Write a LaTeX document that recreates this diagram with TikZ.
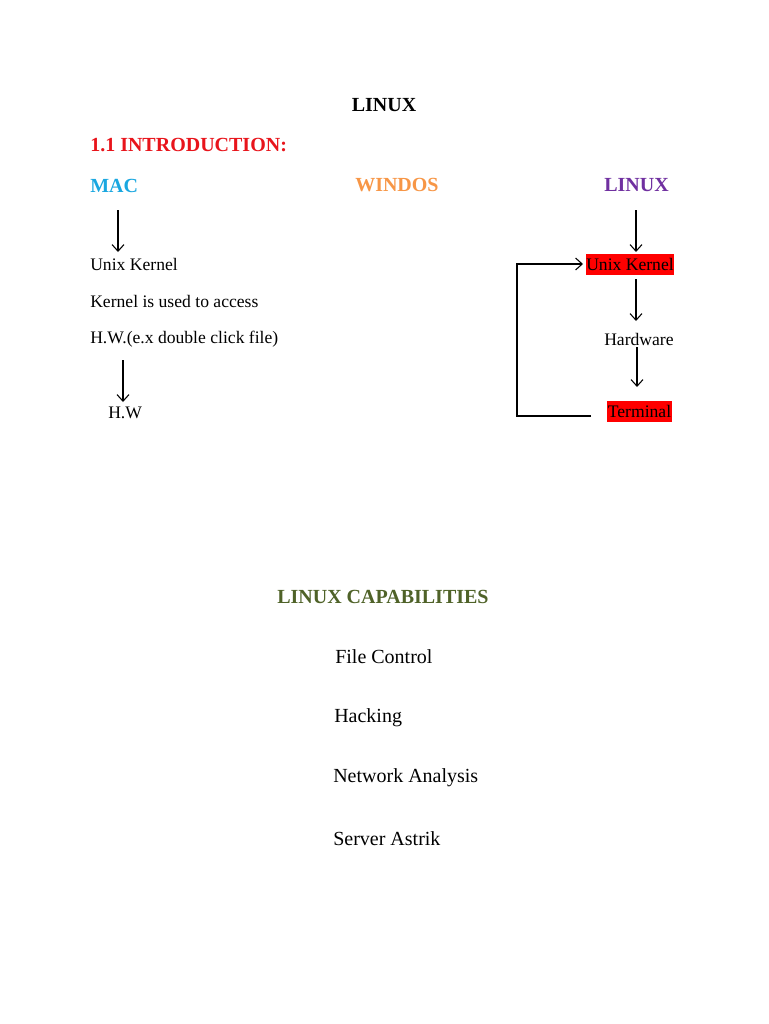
\documentclass[tikz,border=0pt]{standalone}
\usepackage{fontspec}
\setmainfont{Liberation Serif}
\usetikzlibrary{arrows.meta}
\definecolor{introred}{HTML}{E8141B}
\definecolor{macblue}{HTML}{1AA7E0}
\definecolor{winorange}{HTML}{F79646}
\definecolor{linpurple}{HTML}{7030A0}
\definecolor{capolive}{HTML}{4F6228}
\tikzset{
  head/.style={font=\fontsize{15}{18}\selectfont\bfseries, inner sep=0pt, anchor=west},
  small/.style={font=\fontsize{13.2}{16}\selectfont, inner sep=0pt, anchor=west},
  capitem/.style={font=\fontsize{15}{18}\selectfont, inner sep=0pt, anchor=west},
  redbox/.style={small, anchor=center, fill=red, inner xsep=0.5pt, minimum height=15.75pt},
  arr/.style={-{Straight Barb[length=5pt,width=9pt,line width=0.8pt]}, line width=0.8pt},
  fb/.style={line width=0.8pt}
}
\begin{document}
\begin{tikzpicture}[x=0.75pt,y=-0.75pt]
\useasboundingbox (0,0) rectangle (768,1024);
% headings
\node[head, anchor=center] (title) at (384,105.5) {LINUX};
\node[head, text=introred] (intro) at (90,145.5) {1.1 INTRODUCTION:};
\node[head, text=macblue] (mac) at (90,185.5) {MAC};
\node[head, text=winorange] (win) at (355,185.5) {WINDOS};
\node[head, text=linpurple] (lin) at (604,185.5) {LINUX};
% MAC column
\node[small] (mk) at (90,264.5) {Unix Kernel};
\node[small] (ka) at (90,301.5) {Kernel is used to access};
\node[small] (hwx) at (90,339.5) {H.W.(e.x double click file)};
\node[small] (hw) at (108,412.5) {H.W};
\coordinate (m1s) at (118,210);
\coordinate (m1e) at (118,252);
\coordinate (m2s) at (123,360);
\coordinate (m2e) at (123,402);
\draw[arr] (m1s) -- (m1e);
\draw[arr] (m2s) -- (m2e);
% LINUX column
\node[redbox] (uk) at (630,264.5) {Unix Kernel};
\node[small] (hard) at (604,339.5) {Hardware};
\node[redbox] (term) at (639.5,411.5) {Terminal};
\coordinate (l1s) at (636,210);
\coordinate (l1e) at (636,252);
\coordinate (l2s) at (636,279);
\coordinate (l2e) at (636,321);
\coordinate (l3s) at (637,347);
\coordinate (l3e) at (637,387);
\draw[arr] (l1s) -- (l1e);
\draw[arr] (l2s) -- (l2e);
\draw[arr] (l3s) -- (l3e);
\coordinate (fbs) at (591,416);
\coordinate (fbc1) at (517,416);
\coordinate (fbc2) at (517,264);
\coordinate (fbm) at (535,264);
\coordinate (fbe) at (583,264);
\draw[fb] (fbs) -- (fbc1) -- (fbc2) -- (fbm);
\draw[arr] (fbm) -- (fbe);
% capabilities
\node[head, text=capolive] (caps) at (277,596.5) {LINUX CAPABILITIES};
\node[capitem] (c1) at (335,656.5) {File Control};
\node[capitem] (c2) at (334,717.5) {Hacking};
\node[capitem] (c3) at (333,777.5) {Network Analysis};
\node[capitem] (c4) at (333,838.5) {Server Astrik};
\end{tikzpicture}
\end{document}
